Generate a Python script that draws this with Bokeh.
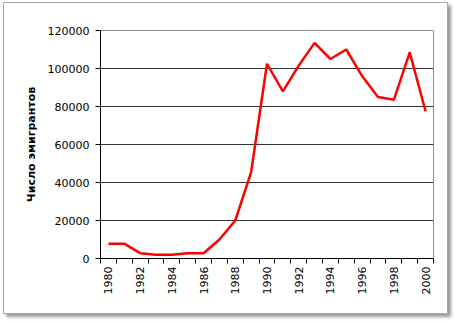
import math
from bokeh.plotting import figure
from bokeh.models import Range1d, FixedTicker, BasicTickFormatter, ColumnDataSource
from bokeh.embed import file_html
from bokeh.resources import INLINE

years = list(range(1980, 2001))
emigrants = [7800, 7800, 2800, 2000, 2000, 2800, 2800, 10000, 20000, 45500,
             102500, 88000, 101500, 113500, 105000, 110000, 96000, 85000,
             83500, 108500, 77500]
y_ticks = [0, 20000, 40000, 60000, 80000, 100000, 120000]
x_label_years = [y for y in years if y % 2 == 0]
y_title = "Число эмигрантов"

src = ColumnDataSource(data=dict(year=years, value=emigrants))

p = figure(output_backend="svg", toolbar_location=None,
           frame_width=333, frame_height=228,
           x_range=Range1d(years[0] - 0.5, years[-1] + 0.5),
           y_range=Range1d(y_ticks[0], y_ticks[-1]),
           min_border_left=96, min_border_right=14,
           min_border_top=27, min_border_bottom=55,
           background_fill_color="white", border_fill_color="white")
p.margin = (2, 0, 0, 3)
p.styles = {"border": "1px solid #a8a8a8", "box-shadow": "3px 3px 3px #9a9a9a"}

p.line("year", "value", source=src, line_color="#ff0000", line_width=2.5)

p.outline_line_color = "#909090"
p.outline_line_width = 1

p.xgrid.grid_line_color = None
p.ygrid.ticker = FixedTicker(ticks=y_ticks[1:-1])
p.ygrid.grid_line_color = "#333333"
p.ygrid.grid_line_width = 1.2

xa = p.xaxis[0]
xa.ticker = FixedTicker(ticks=x_label_years,
                        minor_ticks=[y - 0.5 for y in years] + [years[-1] + 0.5])
xa.formatter = BasicTickFormatter(use_scientific=False)
xa.major_tick_line_color = None
xa.major_tick_out = 5
xa.major_tick_in = 0
xa.minor_tick_line_color = "black"
xa.minor_tick_out = 5
xa.minor_tick_in = 0
xa.axis_line_color = "black"
xa.major_label_orientation = math.pi / 2
xa.major_label_text_font = "DejaVu Sans"
xa.major_label_text_font_size = "11px"
xa.major_label_text_color = "black"
xa.major_label_standoff = 3

ya = p.yaxis[0]
ya.ticker = FixedTicker(ticks=y_ticks)
ya.formatter = BasicTickFormatter(use_scientific=False)
ya.major_tick_out = 5
ya.major_tick_in = 0
ya.major_tick_line_color = "black"
ya.minor_tick_line_color = None
ya.axis_line_color = "black"
ya.major_label_text_font = "DejaVu Sans"
ya.major_label_text_font_size = "11px"
ya.major_label_text_color = "black"
ya.major_label_standoff = 6
ya.axis_label = y_title
ya.axis_label_text_font = "DejaVu Sans"
ya.axis_label_text_font_size = "11px"
ya.axis_label_text_font_style = "bold"
ya.axis_label_text_color = "black"
ya.axis_label_standoff = 7

open("out.html", "w").write(file_html(p, INLINE))
